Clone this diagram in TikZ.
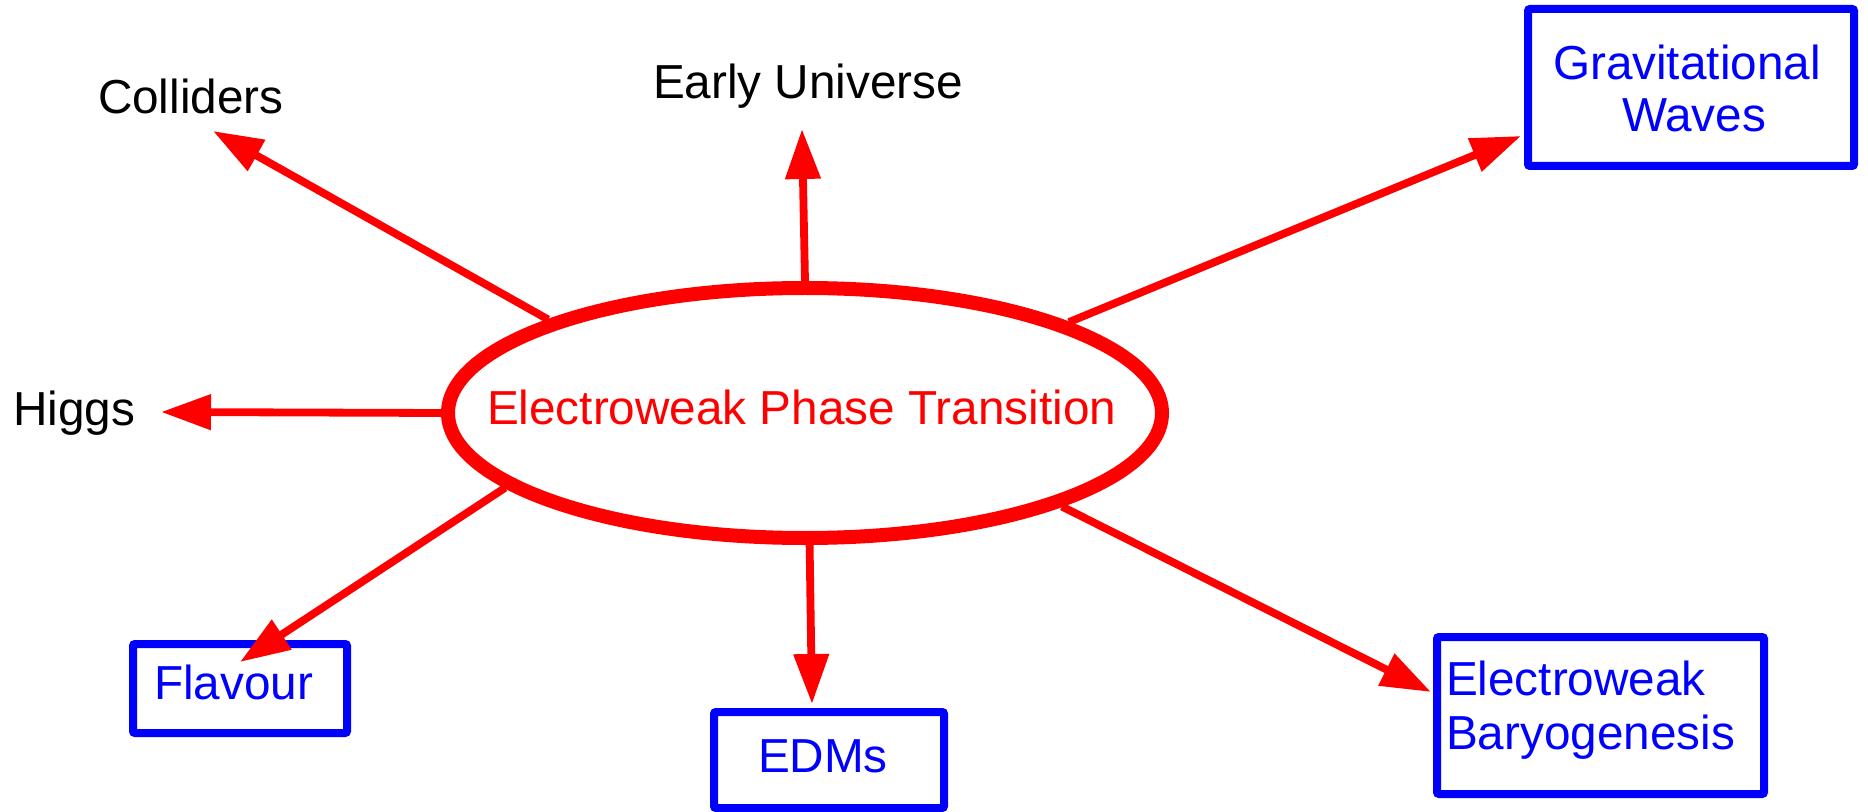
\documentclass[tikz,border=0pt]{standalone}
\usepackage{fontspec}
\setmainfont{Liberation Sans}
\usetikzlibrary{arrows.meta,shapes.geometric}
\definecolor{myred}{RGB}{255,0,0}
\definecolor{myblue}{RGB}{0,0,255}
\begin{document}
\begin{tikzpicture}[x=0.5pt,y=-0.5pt,
  every node/.style={font=\fontsize{23.85pt}{26pt}\selectfont},
  lbl/.style={anchor=base west, inner sep=0pt, outer sep=0pt},
  box/.style={draw=myblue, line width=4pt, rounded corners=1pt, inner sep=0pt},
  arr/.style={draw=myred, line width=3.9pt, -{Triangle[length=25pt,width=17pt]}}]
\useasboundingbox (0,0) rectangle (1868,812);

% boxes
\node[box, minimum width=163pt, minimum height=78.5pt] (gw) at (1691,87.5) {};
\node[box, minimum width=107pt, minimum height=44.5pt] (flav) at (240,688.5) {};
\node[box, minimum width=115pt, minimum height=48pt] (edm) at (829,760) {};
\node[box, minimum width=163.5pt, minimum height=78.5pt] (ewbg) at (1600.5,715.5) {};

% box texts
\node[lbl, text=myblue] (gwA) at (1553,80) {Gravitational};
\node[lbl, text=myblue] (gwB) at (1622,132) {Waves};
\node[lbl, text=myblue] (flavT) at (154,699) {Flavour};
\node[lbl, text=myblue] (edmT) at (758,772) {EDMs};
\node[lbl, text=myblue] (ewbgA) at (1446,695) {Electroweak};
\node[lbl, text=myblue] (ewbgB) at (1446,749) {Baryogenesis};

% plain labels
\node[lbl] (coll) at (98,114) {Colliders};
\node[lbl] (early) at (653,99) {Early Universe};
\node[lbl] (higgs) at (13,425) {Higgs};

% central ellipse
\node[ellipse, draw=myred, line width=7pt, minimum width=357pt, minimum height=125pt, inner sep=0pt] (ell) at (805,413) {};
\node[lbl, text=myred] (ewpt) at (487,424) {Electroweak Phase Transition};

% arrow tips
\coordinate (tColl) at (213,131);
\coordinate (tEarly) at (802,129);
\coordinate (tGW) at (1521,136);
\coordinate (tHiggs) at (161,412);
\coordinate (tFlav) at (240,662);
\coordinate (tEDM) at (812,704);
\coordinate (tEWBG) at (1431,692);

\draw[arr] (ell.160) -- (tColl);
\draw[arr] (ell.90) -- (tEarly);
\draw[arr] (ell.19) -- (tGW);
\draw[arr] (ell.180) -- (tHiggs);
\draw[arr] (ell.194) -- (tFlav);
\draw[arr] (ell.272) -- (tEDM);
\draw[arr] (ell.340) -- (tEWBG);
\end{tikzpicture}
\end{document}
